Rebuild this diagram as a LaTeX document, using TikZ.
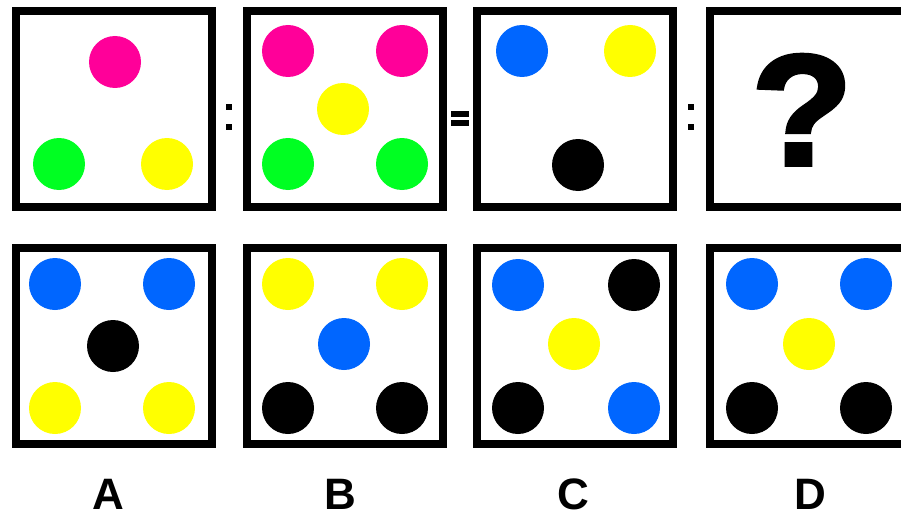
\documentclass[tikz,border=0pt]{standalone}
\usepackage{fontspec}
\setmainfont{Liberation Sans}
\newfontfamily\qfont[BoldFeatures={FakeBold=2.5}]{Liberation Sans}
\definecolor{cpink}{HTML}{FF0099}
\definecolor{cgreen}{HTML}{00FF22}
\definecolor{cyel}{HTML}{FFFF00}
\definecolor{cblue}{HTML}{0066FF}
\begin{document}
\begin{tikzpicture}[x=1pt,y=-1pt,
  frame/.style={line width=8pt, draw=black},
  sym/.style={fill=black},
  lbl/.style={font=\fontsize{44}{44}\selectfont\bfseries, anchor=base, inner sep=0pt}]
\useasboundingbox (0,0) rectangle (901,516);
\clip (0,0) rectangle (901,516);
\fill[white] (0,0) rectangle (901,516);
% top row frames
\draw[frame] (16,11) rectangle (212,207);
\draw[frame] (247,11) rectangle (443,207);
\draw[frame] (477,11) rectangle (673,207);
\draw[frame] (710,11) rectangle (906,207);
% bottom row frames
\draw[frame] (16,248) rectangle (212,444);
\draw[frame] (247,248) rectangle (443,444);
\draw[frame] (477,248) rectangle (673,444);
\draw[frame] (710,248) rectangle (906,444);
% box 1
\fill[cpink] (115,62) circle (26pt);
\fill[cgreen] (59,164) circle (26pt);
\fill[cyel] (167,164) circle (26pt);
% box 2
\fill[cpink] (288,51) circle (26pt);
\fill[cpink] (402,51) circle (26pt);
\fill[cyel] (343,109) circle (26pt);
\fill[cgreen] (288,164) circle (26pt);
\fill[cgreen] (402,164) circle (26pt);
% box 3
\fill[cblue] (522,51) circle (26pt);
\fill[cyel] (630,51) circle (26pt);
\fill[black] (578,165) circle (26pt);
% box 4 question mark
\node[inner sep=0pt, anchor=base, xscale=1.05] (q) at (802,165) {\fontsize{158}{158}\selectfont\qfont\bfseries ?};
% symbols
\fill[sym] (226,104) rectangle (232,110);
\fill[sym] (226,124) rectangle (232,130);
\fill[sym] (451,111) rectangle (469,117);
\fill[sym] (451,120) rectangle (469,126);
\fill[sym] (688,104) rectangle (694,110);
\fill[sym] (688,124) rectangle (694,130);
% box A
\fill[cblue] (55,284) circle (26pt);
\fill[cblue] (169,284) circle (26pt);
\fill[black] (113,346) circle (26pt);
\fill[cyel] (55,408) circle (26pt);
\fill[cyel] (169,408) circle (26pt);
% box B
\fill[cyel] (288,284) circle (26pt);
\fill[cyel] (402,284) circle (26pt);
\fill[cblue] (344,344) circle (26pt);
\fill[black] (288,408) circle (26pt);
\fill[black] (402,408) circle (26pt);
% box C
\fill[cblue] (518,285) circle (26pt);
\fill[black] (634,285) circle (26pt);
\fill[cyel] (574,344) circle (26pt);
\fill[black] (518,408) circle (26pt);
\fill[cblue] (634,408) circle (26pt);
% box D
\fill[cblue] (752,284) circle (26pt);
\fill[cblue] (866,284) circle (26pt);
\fill[cyel] (809,344) circle (26pt);
\fill[black] (752,408) circle (26pt);
\fill[black] (866,408) circle (26pt);
% labels
\node[lbl] (la) at (108,509) {A};
\node[lbl] (lb) at (340,509) {B};
\node[lbl] (lc) at (573,509) {C};
\node[lbl] (ld) at (810,509) {D};
\end{tikzpicture}
\end{document}
